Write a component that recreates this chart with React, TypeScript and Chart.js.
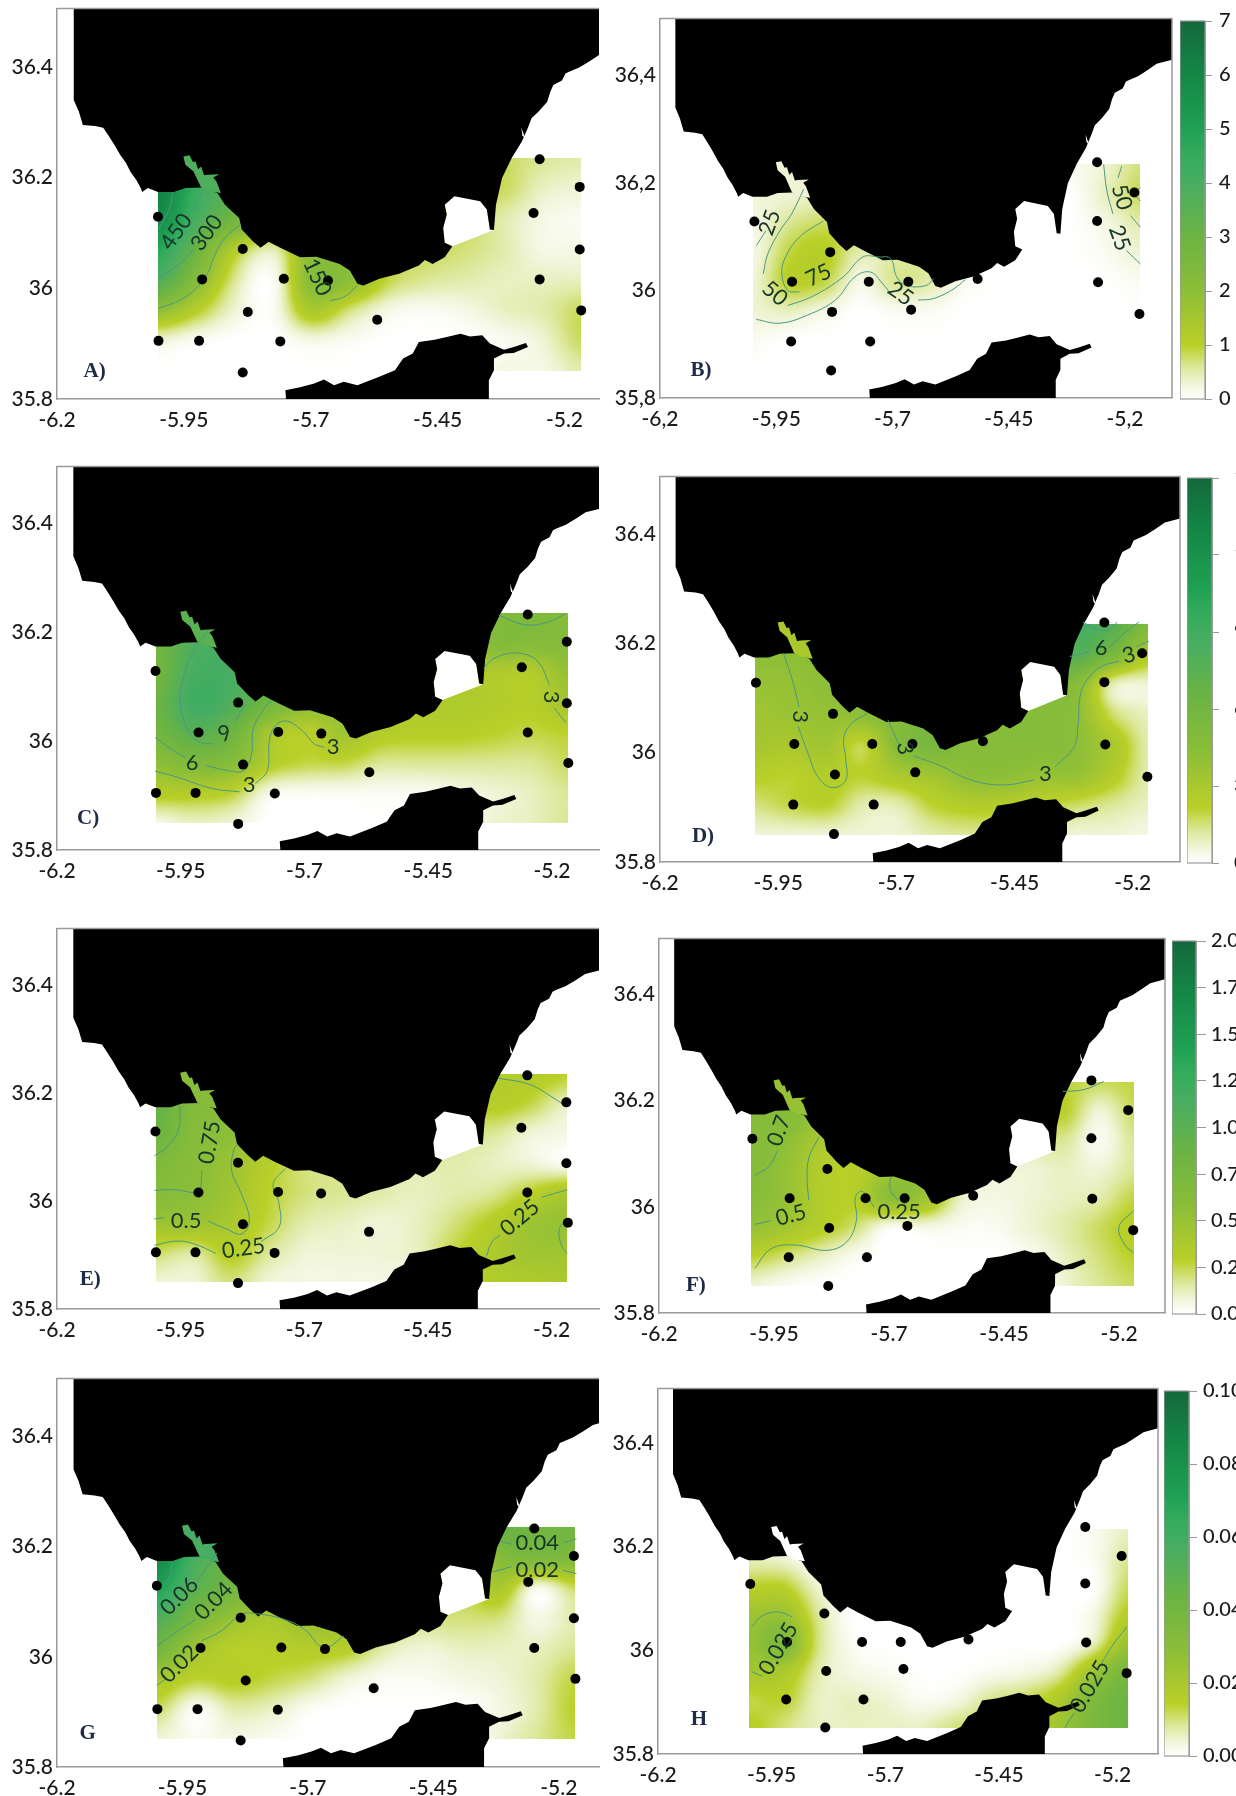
import { useEffect, useRef } from 'react';
import { Chart, registerables } from 'chart.js';

Chart.register(...registerables);

type Pair = [number, number];

const northCoast: Pair[] = [[-6.167,36.51],[-6.167,36.34],[-6.157,36.319],[-6.149,36.295],[-6.125,36.293],[-6.109,36.29],[-6.098,36.275],[-6.087,36.259],[-6.075,36.24],[-6.064,36.226],[-6.055,36.21],[-6.044,36.196],[-6.035,36.181],[-6.032,36.174],[-6.021,36.181],[-6.001,36.174],[-5.97,36.174],[-5.947,36.181],[-5.916,36.182],[-5.884,36.172],[-5.869,36.151],[-5.841,36.127],[-5.836,36.106],[-5.814,36.085],[-5.799,36.073],[-5.783,36.084],[-5.76,36.073],[-5.721,36.056],[-5.689,36.057],[-5.643,36.044],[-5.623,36.032],[-5.608,36.008],[-5.596,36.005],[-5.565,36.017],[-5.526,36.026],[-5.487,36.041],[-5.475,36.051],[-5.46,36.044],[-5.436,36.056],[-5.421,36.076],[-5.436,36.082],[-5.439,36.109],[-5.432,36.133],[-5.436,36.151],[-5.417,36.166],[-5.366,36.157],[-5.353,36.142],[-5.347,36.106],[-5.339,36.105],[-5.335,36.151],[-5.323,36.199],[-5.304,36.235],[-5.284,36.265],[-5.272,36.29],[-5.265,36.307],[-5.25,36.32],[-5.234,36.337],[-5.228,36.355],[-5.222,36.367],[-5.205,36.375],[-5.198,36.388],[-5.191,36.391],[-5.172,36.398],[-5.152,36.409],[-5.132,36.421],[-5.05,36.44],[-5.05,36.51]];
const bayWater: Pair[] = [[-5.421,36.076],[-5.436,36.082],[-5.439,36.109],[-5.432,36.133],[-5.436,36.151],[-5.417,36.166],[-5.425,36.185],[-5.41,36.168],[-5.366,36.157],[-5.353,36.142],[-5.347,36.106],[-5.339,36.105]];
const lagoon: Pair[] = [[-5.951,36.238],[-5.939,36.24],[-5.932,36.228],[-5.927,36.229],[-5.922,36.215],[-5.916,36.22],[-5.91,36.204],[-5.904,36.205],[-5.88,36.206],[-5.892,36.2],[-5.886,36.193],[-5.877,36.172],[-5.9,36.175],[-5.916,36.182],[-5.931,36.211],[-5.947,36.223]];
const southCoast: Pair[] = [[-5.748,35.79],[-5.75,35.816],[-5.721,35.821],[-5.693,35.828],[-5.674,35.835],[-5.654,35.825],[-5.635,35.831],[-5.608,35.825],[-5.565,35.84],[-5.534,35.852],[-5.518,35.873],[-5.499,35.882],[-5.487,35.903],[-5.456,35.907],[-5.432,35.912],[-5.405,35.918],[-5.386,35.913],[-5.362,35.915],[-5.347,35.9],[-5.319,35.889],[-5.3,35.894],[-5.276,35.901],[-5.272,35.894],[-5.3,35.883],[-5.319,35.882],[-5.339,35.873],[-5.339,35.852],[-5.349,35.834],[-5.349,35.79]];
const coastSliver: Pair[] = [[-5.285,36.29],[-5.277,36.27],[-5.283,36.276]];

const stationsWest: Pair[] = [[-6.001,36.129],[-5.834,36.071],[-5.914,36.016],[-5.753,36.017],[-5.666,36.014],[-5.824,35.957],[-5.569,35.943],[-6.0,35.905],[-5.92,35.905],[-5.76,35.904],[-5.834,35.848],[-5.249,36.233],[-5.17,36.183],[-5.261,36.136],[-5.17,36.07],[-5.249,36.016],[-5.167,35.96]];
const stationsEast: Pair[] = [[-5.997,36.128],[-5.834,36.071],[-5.916,36.016],[-5.751,36.016],[-5.666,36.016],[-5.517,36.021],[-5.83,35.96],[-5.66,35.964],[-5.169,35.956],[-5.918,35.905],[-5.748,35.905],[-5.832,35.851],[-5.26,36.238],[-5.18,36.182],[-5.26,36.129],[-5.258,36.015]];

const fieldLonsWest = [-6.0,-5.924,-5.849,-5.773,-5.697,-5.622,-5.546,-5.47,-5.395,-5.319,-5.244,-5.168];
const fieldLonsEast = [-6.0,-5.924,-5.849,-5.773,-5.697,-5.621,-5.546,-5.47,-5.394,-5.318,-5.243,-5.167];
const fieldLats = [36.235,36.18,36.125,36.07,36.015,35.96,35.905,35.85];

const fieldA = [
  [60,50,40,30,20,15,10,8,8,8,6,5],
  [62,44,35,28,22,18,12,8,8,8,4,3],
  [58,40,28,20,20,16,10,8,8,5,2,1],
  [48,30,12,5,20,16,8,8,7,5,2,2],
  [38,22,6,1,22,20,9,6,5,4,4,4],
  [20,11,3,1,14,7,2,1,2,4,5,8],
  [3,1,0,0,2,1,0,0,0,1,3,8],
  [0,0,0,0,0,0,0,0,0,2,2,5],
];
const fieldB = [
  [3,3,4,4,4,2,0,0,0,1,3,7],
  [3,3,4,6,5,3,0,0,0,0,4,8],
  [2,6,8,8,5,4,0,0,0,0,2,5],
  [2,9,11,5,5,5,0,0,0,0,1,3],
  [3,10,9,2,6,5,1,0,0,0,0,1],
  [3,4,2,0,1,1,0,0,0,0,0,0],
  [1,0,0,0,0,0,0,0,0,0,0,0],
  [0,0,0,0,0,0,0,0,0,0,0,0],
];
const fieldC = [
  [30,34,36,30,22,18,15,13,13,22,25,22],
  [28,38,38,30,22,18,15,13,13,22,22,22],
  [28,40,40,30,20,18,15,13,13,13,12,18],
  [30,42,38,28,20,18,15,13,13,12,11,15],
  [28,35,30,15,11,16,12,11,11,10,9,10],
  [20,24,22,12,9,9,6,6,6,6,6,8],
  [12,12,10,2,1,1,1,1,2,3,4,6],
  [2,4,3,0,0,0,0,0,0,3,4,6],
];
const fieldD = [
  [22,22,22,22,22,22,22,22,30,40,36,24],
  [20,20,20,20,22,24,24,24,30,36,26,14],
  [18,18,20,18,22,24,24,24,24,22,5,3],
  [16,17,18,20,22,25,22,22,22,20,8,4],
  [15,14,16,9,22,26,22,22,22,20,14,5],
  [11,10,12,10,14,16,20,20,18,18,12,5],
  [7,9,10,5,5,10,12,12,10,8,6,4],
  [3,3,3,3,3,5,6,6,5,3,3,2],
];
const fieldE = [
  [35,30,24,20,14,10,8,8,8,11,12,10],
  [32,24,22,18,12,9,8,7,7,11,9,4],
  [30,22,20,14,9,7,6,6,6,6,3,2],
  [24,21,17,11,7,6,5,5,5,4,3,1],
  [22,20,16,10,7,6,5,4,5,6,10,14],
  [17,17,14,9,5,4,3,4,7,11,16,18],
  [8,6,11,6,3,3,3,4,9,13,16,16],
  [3,3,7,3,2,2,2,3,9,12,13,14],
];
const fieldF = [
  [24,24,22,18,16,14,8,5,6,9,8,9],
  [22,22,20,16,16,16,7,5,6,10,3,8],
  [22,20,14,13,16,18,6,4,5,6,1,6],
  [22,18,12,11,16,18,5,3,3,4,3,6],
  [21,18,12,11,20,16,4,2,3,4,5,9],
  [18,15,11,7,1,2,1,1,3,5,8,11],
  [10,7,4,1,0,0,0,0,1,4,7,10],
  [3,1,0,0,0,0,0,0,0,3,6,8],
];
const fieldG = [
  [65,50,36,26,20,16,10,8,8,30,28,28],
  [60,40,30,24,20,16,10,8,8,22,25,24],
  [50,35,28,20,19,16,9,8,8,14,2,8],
  [38,26,18,14,18,15,8,7,7,7,2,5],
  [28,16,11,11,12,11,5,3,4,4,4,6],
  [15,10,11,9,7,3,1,1,2,3,5,9],
  [8,1,5,4,1,0,0,0,0,2,5,10],
  [3,1,2,1,0,0,0,0,0,3,6,9],
];
const fieldH = [
  [3,2,0,0,0,0,0,0,0,0,1,4],
  [4,3,0,0,0,0,0,0,0,0,1,6],
  [10,10,3,0,0,0,0,0,0,0,0,8],
  [16,17,6,0,0,0,0,0,0,0,2,11],
  [18,24,7,1,0,0,0,0,0,0,4,17],
  [15,14,5,2,1,0,0,1,2,5,16,26],
  [9,10,4,4,3,1,2,6,8,13,24,30],
  [11,7,4,4,4,4,7,9,10,16,25,30],
];

const lagoonLevels = { A: 38, B: 3, C: 35, D: 14, E: 22, F: 18, G: 40, H: 0 };

const contoursA: Pair[][] = [
  [[-5.972,36.172],[-5.978,36.145],[-6.0,36.106]],
  [[-5.914,36.176],[-5.931,36.139]],
  [[-6.001,36.017],[-5.954,36.047],[-5.931,36.07]],
  [[-6.001,35.963],[-5.947,35.984],[-5.908,36.02],[-5.888,36.062],[-5.869,36.091],[-5.838,36.115]],
  [[-5.662,35.978],[-5.635,35.984],[-5.608,36.005]],
];
const contoursB: Pair[][] = [
  [[-5.993,36.083],[-5.972,36.111]],
  [[-5.891,36.188],[-5.917,36.142],[-5.942,36.111],[-5.968,36.068],[-5.978,36.031]],
  [[-5.849,36.129],[-5.9,36.099],[-5.93,36.062],[-5.938,36.031],[-5.925,36.0],[-5.9,35.997]],
  [[-5.925,35.972],[-5.874,35.988],[-5.806,36.025],[-5.764,36.062],[-5.73,36.062],[-5.704,36.059],[-5.691,36.025],[-5.67,36.009],[-5.628,36.009],[-5.611,36.022]],
  [[-5.993,35.946],[-5.942,35.939],[-5.883,35.954],[-5.823,35.982],[-5.781,36.025],[-5.747,36.034],[-5.721,36.012],[-5.704,35.994]],
  [[-5.645,35.982],[-5.611,35.985],[-5.568,36.003],[-5.543,36.02]],
  [[-5.246,36.234],[-5.239,36.185],[-5.226,36.142]],
  [[-5.197,36.074],[-5.167,36.049]],
  [[-5.207,36.231],[-5.215,36.209]],
  [[-5.188,36.139],[-5.167,36.117]],
  [[-5.167,36.191],[-5.18,36.18],[-5.167,36.166]],
];
const contoursC: Pair[][] = [
  [[-5.894,36.205],[-5.925,36.165],[-5.945,36.116],[-5.951,36.074],[-5.941,36.031],[-5.918,36.001],[-5.882,35.995]],
  [[-5.842,36.034],[-5.819,36.068]],
  [[-6.002,36.007],[-5.965,35.983],[-5.941,35.97]],
  [[-5.898,35.955],[-5.854,35.946],[-5.823,35.946],[-5.807,35.977],[-5.803,36.025],[-5.775,36.068],[-5.767,36.074]],
  [[-6.002,35.945],[-5.957,35.934],[-5.886,35.913],[-5.831,35.907]],
  [[-5.799,35.922],[-5.775,35.946],[-5.771,36.001],[-5.759,36.028],[-5.736,36.037],[-5.704,36.019],[-5.68,35.995],[-5.66,35.989]],
  [[-5.308,36.232],[-5.253,36.214],[-5.205,36.22],[-5.172,36.235]],
  [[-5.338,36.134],[-5.316,36.153],[-5.269,36.162],[-5.229,36.147],[-5.205,36.104]],
  [[-5.196,36.062],[-5.172,36.034]],
];
const contoursD: Pair[][] = [
  [[-5.939,36.182],[-5.92,36.133],[-5.906,36.084]],
  [[-5.908,36.048],[-5.887,35.999],[-5.866,35.956],[-5.836,35.936],[-5.807,35.95],[-5.807,35.987],[-5.811,36.029],[-5.794,36.054],[-5.761,36.072]],
  [[-5.718,36.06],[-5.702,36.029],[-5.693,36.011]],
  [[-5.664,35.994],[-5.609,35.977],[-5.542,35.95],[-5.475,35.941],[-5.408,35.95]],
  [[-5.364,35.974],[-5.324,36.011],[-5.316,36.048],[-5.31,36.109],[-5.291,36.139],[-5.266,36.158],[-5.229,36.167]],
  [[-5.192,36.194],[-5.166,36.204]],
  [[-5.333,36.176],[-5.291,36.185]],
  [[-5.251,36.191],[-5.217,36.219],[-5.187,36.239]],
  [[-5.305,36.239],[-5.274,36.225],[-5.25,36.225],[-5.233,36.239]],
];
const contoursE: Pair[][] = [
  [[-5.951,36.176],[-5.955,36.13],[-5.979,36.099],[-6.003,36.084]],
  [[-5.907,36.056],[-5.909,36.023]],
  [[-6.003,36.02],[-5.963,36.021],[-5.923,36.015]],
  [[-6.003,35.967],[-5.983,35.969]],
  [[-5.895,35.963],[-5.859,35.949],[-5.827,35.939],[-5.811,35.964],[-5.827,36.013],[-5.847,36.056],[-5.843,36.093],[-5.835,36.106]],
  [[-6.003,35.918],[-5.955,35.926],[-5.915,35.918],[-5.879,35.903]],
  [[-5.787,35.925],[-5.751,35.952],[-5.751,35.995],[-5.763,36.032],[-5.739,36.06]],
  [[-5.308,36.228],[-5.244,36.216],[-5.196,36.191],[-5.172,36.176]],
  [[-5.332,35.897],[-5.32,35.925],[-5.304,35.937]],
  [[-5.22,36.007],[-5.168,36.021]],
  [[-5.168,35.967],[-5.184,35.949],[-5.18,35.918],[-5.168,35.903]],
];
const contoursF: Pair[][] = [
  [[-5.992,36.059],[-5.96,36.077],[-5.943,36.105]],
  [[-5.853,36.13],[-5.874,36.093],[-5.878,36.049],[-5.874,36.012]],
  [[-5.992,35.967],[-5.956,35.974]],
  [[-5.992,35.884],[-5.956,35.921],[-5.904,35.928],[-5.835,35.918],[-5.792,35.934],[-5.771,35.974],[-5.773,36.018],[-5.758,36.029],[-5.732,35.999]],
  [[-5.697,36.055],[-5.697,36.031],[-5.68,36.012]],
  [[-5.322,36.217],[-5.275,36.221],[-5.233,36.236]],
  [[-5.168,35.993],[-5.2,35.962],[-5.187,35.928],[-5.168,35.913]],
];
const contoursG: Pair[][] = [
  [[-5.97,36.172],[-5.979,36.14],[-5.999,36.122]],
  [[-5.881,36.189],[-5.912,36.149],[-5.928,36.125]],
  [[-6.001,36.02],[-5.959,36.047],[-5.924,36.068]],
  [[-5.912,36.029],[-5.873,36.047],[-5.833,36.077],[-5.802,36.078],[-5.747,36.068],[-5.707,36.05],[-5.668,36.017],[-5.628,36.038]],
  [[-6.001,35.948],[-5.983,35.96]],
  [[-5.317,36.21],[-5.293,36.204]],
  [[-5.191,36.207],[-5.165,36.214]],
  [[-5.332,36.154],[-5.293,36.164]],
  [[-5.191,36.157],[-5.165,36.151]],
];
const contoursH: Pair[][] = [
  [[-5.994,36.045],[-5.97,36.067],[-5.935,36.074],[-5.904,36.064]],
  [[-5.994,35.959],[-5.97,35.95]],
  [[-5.169,36.045],[-5.202,36.007],[-5.224,35.975]],
  [[-5.285,35.879],[-5.305,35.85]],
];

type Note = [number, number, string, number];
const notesA: Note[] = [[-5.965,36.102,'450',-55],[-5.905,36.1,'300',-55],[-5.687,36.02,'150',65]];
const notesB: Note[] = [[-5.964,36.126,'25',-70],[-5.859,36.028,'75',-25],[-5.953,35.994,'50',40],[-5.683,35.994,'25',35],[-5.207,36.173,'50',75],[-5.212,36.097,'25',70]];
const notesC: Note[] = [[-5.861,36.014,'9',-20],[-5.927,35.961,'6',0],[-5.812,35.919,'3',0],[-5.642,35.99,'3',0],[-5.202,36.081,'3',90]];
const notesD: Note[] = [[-5.903,36.066,'3',90],[-5.682,36.008,'3',80],[-5.385,35.962,'3',0],[-5.267,36.191,'6',0],[-5.208,36.178,'3',-15]];
const notesE: Note[] = [[-5.891,36.109,'0.75',-80],[-5.939,35.964,'0.5',0],[-5.823,35.912,'0.25',-8],[-5.264,35.969,'0.25',-40]];
const notesF: Note[] = [[-5.939,36.143,'0.7',-70],[-5.913,35.984,'0.5',-15],[-5.678,35.99,'0.25',0]];
const notesG: Note[] = [[-5.956,36.11,'0.06',-45],[-5.888,36.101,'0.04',-45],[-5.956,35.987,'0.02',-45],[-5.243,36.207,'0.04',0],[-5.243,36.158,'0.02',0]];
const notesH: Note[] = [[-5.935,36.003,'0.025',-60],[-5.25,35.93,'0.025',-60]];

const xTicks = [-6.2,-5.95,-5.7,-5.45,-5.2];
const yTicks = [35.8,36,36.2,36.4];
const xTickLabelsDot = ['-6.2','-5.95','-5.7','-5.45','-5.2'];
const xTickLabelsComma = ['-6,2','-5,95','-5,7','-5,45','-5,2'];
const yTickLabelsDot = ['35.8','36','36.2','36.4'];
const yTickLabelsComma = ['35,8','36','36,2','36,4'];

const barTicksB = [0,1,2,3,4,5,6,7];
const barLabelsB = ['0','1','2','3','4','5','6','7'];
const barTicksD = [0,3,6,9,12,15];
const barLabelsD = ['0','3','6','9','12','15'];
const barTicksF = [0,0.25,0.5,0.75,1,1.25,1.5,1.75,2];
const barLabelsF = ['0.00','0.25','0.50','0.75','1.00','1.25','1.50','1.75','2.00'];
const barTicksH = [0,0.02,0.04,0.06,0.08,0.1];
const barLabelsH = ['0.00','0.02','0.04','0.06','0.08','0.10'];

// colour ramp: level (0-70, a tenth of a unit on the 0-7 bar) to RGB
const rampLevels = [0,3,6,10,14,20,30,40,45,50,60,70];
const rampColors: [number,number,number][] = [[255,255,255],[240,244,214],[219,231,150],[186,208,40],[170,200,46],[140,190,56],[108,180,66],[72,173,98],[52,172,92],[32,160,84],[20,136,70],[20,104,60]];

const TICK_FONT = 'Lato, "Open Sans", sans-serif';

const levelRgb = (v: number) => {
  const lv = Math.max(0, Math.min(70, v));
  let i = 0;
  while (i < rampLevels.length - 2 && lv > rampLevels[i + 1]) i++;
  const t = (lv - rampLevels[i]) / (rampLevels[i + 1] - rampLevels[i]);
  return rampColors[i].map((c, k) => Math.round(c + (rampColors[i + 1][k] - c) * t)) as [number,number,number];
};
const levelCss = (v: number) => `rgb(${levelRgb(v).join(',')})`;

const cubic = (a: number, b: number, c: number, d: number, t: number) =>
  b + 0.5 * t * (c - a + t * (2 * a - 5 * b + 4 * c - d + t * (3 * (b - c) + d - a)));

const sampleField = (g: number[][], fx: number, fy: number) => {
  const rows = g.length, cols = g[0].length;
  const ix = Math.min(cols - 2, Math.floor(fx)), iy = Math.min(rows - 2, Math.floor(fy));
  const tx = fx - ix, ty = fy - iy;
  const at = (r: number, c: number) => g[Math.max(0, Math.min(rows - 1, r))][Math.max(0, Math.min(cols - 1, c))];
  const col = [0, 1, 2, 3].map((k) => {
    const r = iy - 1 + k;
    return cubic(at(r, ix - 1), at(r, ix), at(r, ix + 1), at(r, ix + 2), tx);
  });
  return cubic(col[0], col[1], col[2], col[3], ty);
};

const mapPlugin = (p: any) => ({
  id: 'mapPanel',
  beforeDatasetsDraw(chart: any) {
    const { ctx, scales } = chart;
    const lons: number[] = p.lons;
    const l = Math.round(scales.x.getPixelForValue(lons[0]));
    const r = Math.round(scales.x.getPixelForValue(lons[lons.length - 1]));
    const t = Math.round(scales.y.getPixelForValue(fieldLats[0]));
    const b = Math.round(scales.y.getPixelForValue(fieldLats[fieldLats.length - 1]));
    const w = r - l, h = b - t;
    const off = document.createElement('canvas');
    off.width = w; off.height = h;
    const oc = off.getContext('2d')!;
    const img = oc.createImageData(w, h);
    for (let y = 0; y < h; y++) {
      for (let x = 0; x < w; x++) {
        const v = sampleField(p.field, (x / (w - 1)) * (lons.length - 1), (y / (h - 1)) * (fieldLats.length - 1));
        const c = levelRgb(v);
        const i = (y * w + x) * 4;
        img.data[i] = c[0]; img.data[i + 1] = c[1]; img.data[i + 2] = c[2]; img.data[i + 3] = 255;
      }
    }
    oc.putImageData(img, 0, 0);
    ctx.drawImage(off, l, t);
  },
  beforeDatasetDraw(chart: any, args: any) {
    const ds = chart.data.datasets[args.index];
    if (!ds.polyFill) return;
    const { ctx, chartArea: a } = chart;
    ctx.save();
    ctx.beginPath();
    ctx.rect(a.left, a.top, a.right - a.left, a.bottom - a.top);
    ctx.clip();
    ctx.beginPath();
    args.meta.data.forEach((pt: any, i: number) => (i ? ctx.lineTo(pt.x, pt.y) : ctx.moveTo(pt.x, pt.y)));
    ctx.closePath();
    ctx.fillStyle = ds.polyFill;
    ctx.fill();
    ctx.restore();
  },
  afterDraw(chart: any) {
    const { ctx, scales, chartArea: a } = chart;
    ctx.save();
    ctx.strokeStyle = '#9a9a9a';
    ctx.lineWidth = 1.5;
    ctx.beginPath();
    ctx.moveTo(a.left, a.top);
    ctx.lineTo(a.right, a.top);
    if (p.boxed) ctx.lineTo(a.right, a.bottom);
    ctx.stroke();
    ctx.textAlign = 'center';
    ctx.textBaseline = 'middle';
    ctx.fillStyle = '#17352b';
    ctx.font = `22px ${TICK_FONT}`;
    for (const [lon, lat, text, rot] of p.notes as Note[]) {
      ctx.save();
      ctx.translate(scales.x.getPixelForValue(lon), scales.y.getPixelForValue(lat));
      ctx.rotate((rot * Math.PI) / 180);
      ctx.fillText(text, 0, 0);
      ctx.restore();
    }
    ctx.fillStyle = '#1d2b45';
    ctx.font = 'bold 21px "Liberation Serif", serif';
    ctx.fillText(p.letter, scales.x.getPixelForValue(p.letterAt[0]), scales.y.getPixelForValue(p.letterAt[1]));
    ctx.restore();
  },
});

// Grow the canvas until the plot area has the wanted size, then slide the canvas so it sits in place.
const seatChart = (chart: any, canvas: HTMLCanvasElement, box: number[]) => {
  const [l, r, t, b] = box;
  for (let i = 0; i < 3; i++) {
    const a = chart.chartArea;
    const dw = r - l - (a.right - a.left);
    const dh = b - t - (a.bottom - a.top);
    if (Math.abs(dw) < 0.5 && Math.abs(dh) < 0.5) break;
    chart.resize(Math.round(chart.width + dw), Math.round(chart.height + dh));
  }
  canvas.style.left = `${l - chart.chartArea.left}px`;
  canvas.style.top = `${t - chart.chartArea.top}px`;
};

const PAD = { left: 60, right: 4, top: 4, bottom: 42 };

function MapPanel({ p }: { p: any }) {
  const ref = useRef<HTMLCanvasElement>(null);
  useEffect(() => {
    const xy = (a: Pair[]) => a.map(([x, y]) => ({ x, y }));
    const poly = (a: Pair[], c: string) => ({ data: xy(a), showLine: false, pointRadius: 0, polyFill: c });
    const sets: any[] = [
      poly(bayWater, '#ffffff'),
      poly(northCoast, '#000000'),
      poly(coastSliver, '#ffffff'),
      poly(lagoon, levelCss(p.lagoon)),
      poly(southCoast, '#000000'),
      ...p.contours.map((c: Pair[]) => ({
        data: xy(c), showLine: true, tension: 0.4, borderColor: '#4a9884', borderWidth: 1, pointRadius: 0,
      })),
      { data: xy(p.stations), showLine: false, pointRadius: 5, pointBackgroundColor: '#000', pointBorderWidth: 0, clip: false },
    ];
    sets.forEach((s, i) => { s.order = sets.length - i; });
    const font = { family: TICK_FONT, size: 21, weight: '500' };
    const chart = new Chart(ref.current!, {
      type: 'scatter',
      data: { datasets: sets },
      plugins: [mapPlugin(p)],
      options: {
        animation: false,
        responsive: false,
        maintainAspectRatio: false,
        events: [],
        layout: { autoPadding: false, padding: { top: PAD.top, right: PAD.right, left: 0, bottom: 0 } },
        plugins: { legend: { display: false }, tooltip: { enabled: false } },
        scales: {
          x: {
            type: 'linear', min: -6.2, max: p.xMax,
            grid: { display: false, drawTicks: false },
            border: { color: '#9a9a9a', width: 1.5 },
            afterBuildTicks: (s: any) => { s.ticks = xTicks.map((value) => ({ value })); },
            afterFit: (s: any) => { s.height = PAD.bottom; },
            ticks: { color: '#1a1a1a', font, padding: 9, maxRotation: 0, autoSkip: false, callback: (_v: any, i: number) => p.xLabels[i] },
          },
          y: {
            type: 'linear', min: 35.8, max: 36.505,
            grid: { display: false, drawTicks: false },
            border: { color: '#9a9a9a', width: 1.5 },
            afterBuildTicks: (s: any) => { s.ticks = yTicks.map((value) => ({ value })); },
            afterFit: (s: any) => { s.width = PAD.left; },
            ticks: { color: '#1a1a1a', font, padding: 4, autoSkip: false, callback: (_v: any, i: number) => p.yLabels[i] },
          },
        },
      },
    } as any);
    seatChart(chart, ref.current!, p.box);
    return () => chart.destroy();
  }, [p]);
  const [l, r, t, b] = p.box;
  return (
    <canvas
      ref={ref}
      width={r - l + PAD.left + PAD.right}
      height={b - t + PAD.top + PAD.bottom}
      style={{ position: 'absolute', left: l - PAD.left, top: t - PAD.top }}
    />
  );
}

function ColorBar({ b }: { b: any }) {
  const ref = useRef<HTMLCanvasElement>(null);
  const [l, r, t, bottom] = b.box;
  const cw = 1236 - l, pad = 6;
  useEffect(() => {
    const max = b.ticks[b.ticks.length - 1];
    const chart = new Chart(ref.current!, {
      type: 'bar',
      data: {
        labels: [''],
        datasets: [{
          data: [max], barPercentage: 1, categoryPercentage: 1, borderWidth: 0,
          backgroundColor: (c: any) => {
            const a = c.chart.chartArea;
            if (!a) return '#fff';
            const g = c.chart.ctx.createLinearGradient(0, a.bottom, 0, a.top);
            rampLevels.forEach((lv) => g.addColorStop(lv / 70, levelCss(lv)));
            return g;
          },
        }],
      },
      plugins: [{
        id: 'barFrame',
        afterDraw(chart: any) {
          const { ctx, chartArea: a } = chart;
          ctx.save();
          ctx.strokeStyle = '#9a9a9a';
          ctx.lineWidth = 1.2;
          ctx.strokeRect(a.left, a.top, a.right - a.left, a.bottom - a.top);
          ctx.restore();
        },
      }],
      options: {
        animation: false,
        responsive: false,
        maintainAspectRatio: false,
        events: [],
        layout: { autoPadding: false, padding: { top: pad, bottom: pad, left: 0, right: 0 } },
        plugins: { legend: { display: false }, tooltip: { enabled: false } },
        scales: {
          x: { display: false },
          y: {
            position: 'right', min: 0, max,
            grid: { drawOnChartArea: false, drawTicks: true, tickLength: b.tick, color: '#9a9a9a' },
            border: { color: '#9a9a9a' },
            afterBuildTicks: (s: any) => { s.ticks = b.ticks.map((value: number) => ({ value })); },
            afterFit: (s: any) => { s.width = cw - (r - l); },
            ticks: { color: '#1a1a1a', font: { family: TICK_FONT, size: 20, weight: '500' }, padding: b.gap, autoSkip: false, callback: (_v: any, i: number) => b.labels[i] },
          },
        },
      },
    } as any);
    seatChart(chart, ref.current!, b.box);
    return () => chart.destroy();
  }, [b]);
  return (
    <canvas
      ref={ref}
      width={cw}
      height={bottom - t + 2 * pad}
      style={{ position: 'absolute', left: l, top: t - pad }}
    />
  );
}

const panels = [
  { box: [57,599,9,399], xMax: -5.132, field: fieldA, lons: fieldLonsWest, contours: contoursA, notes: notesA, stations: stationsWest, lagoon: lagoonLevels.A, letter: 'A)', letterAt: [-6.126,35.849], xLabels: xTickLabelsDot, yLabels: yTickLabelsDot, boxed: false },
  { box: [660,1172,19,398], xMax: -5.099, field: fieldB, lons: fieldLonsEast, contours: contoursB, notes: notesB, stations: stationsEast, lagoon: lagoonLevels.B, letter: 'B)', letterAt: [-6.112,35.851], xLabels: xTickLabelsComma, yLabels: yTickLabelsComma, boxed: true },
  { box: [57,599,467,850], xMax: -5.105, field: fieldC, lons: fieldLonsWest, contours: contoursC, notes: notesC, stations: stationsWest, lagoon: lagoonLevels.C, letter: 'C)', letterAt: [-6.137,35.858], xLabels: xTickLabelsDot, yLabels: yTickLabelsDot, boxed: false },
  { box: [660,1180,477,862], xMax: -5.1, field: fieldD, lons: fieldLonsEast, contours: contoursD, notes: notesD, stations: stationsEast, lagoon: lagoonLevels.D, letter: 'D)', letterAt: [-6.109,35.847], xLabels: xTickLabelsDot, yLabels: yTickLabelsDot, boxed: true },
  { box: [57,599,929,1309], xMax: -5.104, field: fieldE, lons: fieldLonsWest, contours: contoursE, notes: notesE, stations: stationsWest, lagoon: lagoonLevels.E, letter: 'E)', letterAt: [-6.133,35.854], xLabels: xTickLabelsDot, yLabels: yTickLabelsDot, boxed: false },
  { box: [659,1165,939,1313], xMax: -5.1, field: fieldF, lons: fieldLonsEast, contours: contoursF, notes: notesF, stations: stationsEast, lagoon: lagoonLevels.F, letter: 'F)', letterAt: [-6.12,35.851], xLabels: xTickLabelsDot, yLabels: yTickLabelsDot, boxed: true },
  { box: [57,599,1379,1767], xMax: -5.12, field: fieldG, lons: fieldLonsWest, contours: contoursG, notes: notesG, stations: stationsWest, lagoon: lagoonLevels.G, letter: 'G', letterAt: [-6.139,35.86], xLabels: xTickLabelsDot, yLabels: yTickLabelsDot, boxed: false },
  { box: [658,1158,1389,1754], xMax: -5.1, field: fieldH, lons: fieldLonsEast, contours: contoursH, notes: notesH, stations: stationsEast, lagoon: lagoonLevels.H, letter: 'H', letterAt: [-6.11,35.866], xLabels: xTickLabelsDot, yLabels: yTickLabelsDot, boxed: true },
];

const bars = [
  { box: [1180,1205,21,399], ticks: barTicksB, labels: barLabelsB, tick: 7, gap: 7 },
  { box: [1187,1212,478,863], ticks: barTicksD, labels: barLabelsD, tick: 7, gap: 15 },
  { box: [1172,1196,941,1314], ticks: barTicksF, labels: barLabelsF, tick: 10, gap: 5 },
  { box: [1164,1189,1391,1756], ticks: barTicksH, labels: barLabelsH, tick: 8, gap: 6 },
];

export default function App() {
  return (
    <div style={{ position: 'absolute', left: 0, top: 0, width: 1236, height: 1796, overflow: 'hidden', background: '#fff' }}>
      {panels.map((p, i) => <MapPanel key={i} p={p} />)}
      {bars.map((b, i) => <ColorBar key={i} b={b} />)}
    </div>
  );
}
